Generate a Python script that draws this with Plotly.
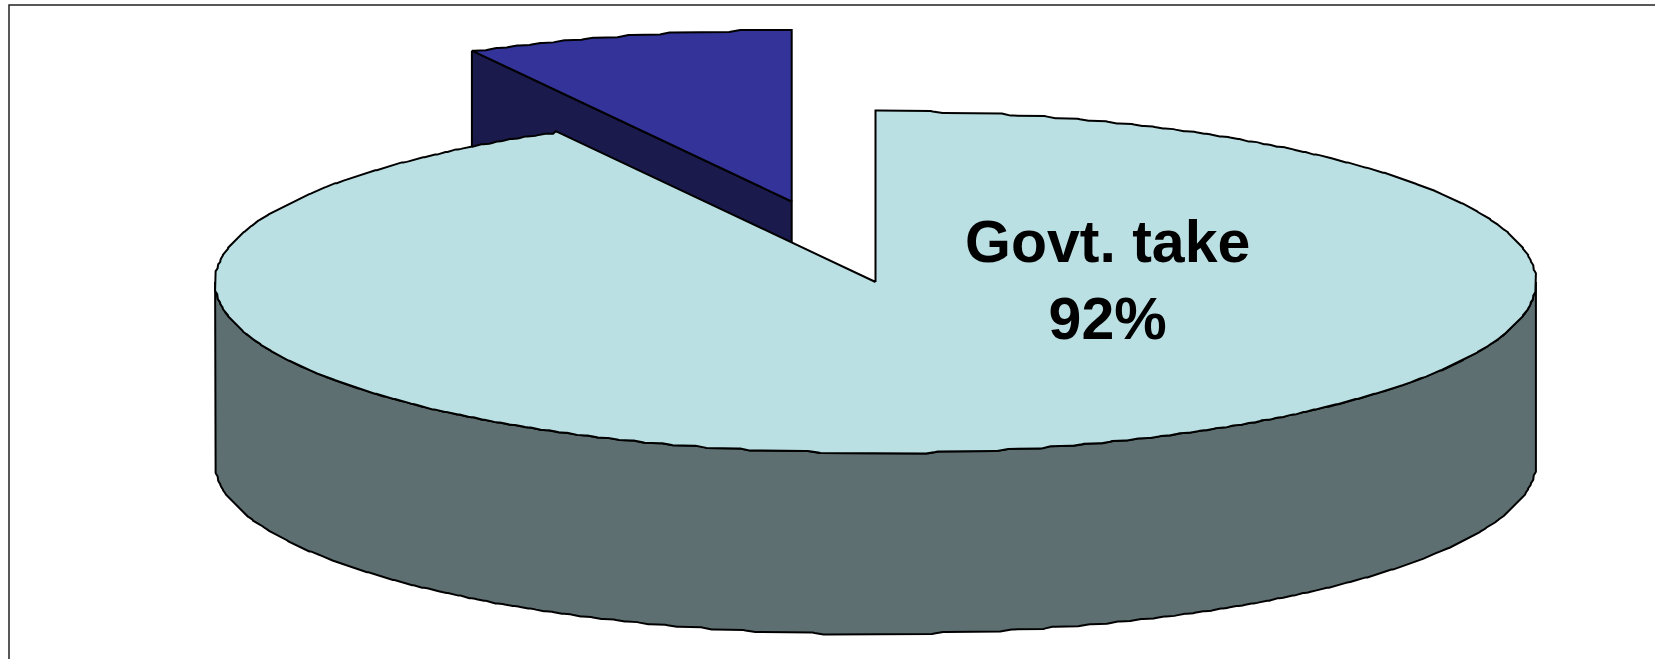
import numpy as np
import plotly.graph_objects as go

# Revenue split shown by the 3-D pie; the second share is pulled out of the disc.
categories = ["Govt. take", "Other"]
shares = [92, 8]
label_lines = ["Govt. take", "92%"]

# Disc geometry in canvas pixels
WIDTH, HEIGHT = 1655, 659
CENTER = (875.5, 282.0)
RADIUS = (660.5, 171.0)
DEPTH = 181.0
PULL_OUT = (-83.8, -80.5)
GRID = 2.6  # coarse raster the rim outline snaps to
SPREAD = 1.007  # perspective widens the narrow slice slightly

TOP_BIG, SIDE_BIG = "#BBE0E3", "#5E6F72"
TOP_SMALL, SIDE_SMALL = "#333399", "#1A1A4D"
EDGE = "#000000"


def rim(start_deg, end_deg, center=CENTER):
    """Stepped rim points between two clockwise angles measured from 12 o'clock."""
    n = max(int(abs(end_deg - start_deg) * 5), 2)
    t = np.radians(np.linspace(start_deg, end_deg, n))
    x = RADIUS[0] * np.sin(t)
    y = -RADIUS[1] * np.cos(t)
    x = np.round(x / GRID) * GRID
    y = np.round(y / GRID) * GRID
    # soften the stair corners a little while keeping the end points
    kernel = np.ones(5) / 5
    xs, ys = x.copy(), y.copy()
    xs[2:-2] = np.convolve(x, kernel, mode="valid")
    ys[2:-2] = np.convolve(y, kernel, mode="valid")
    return xs + center[0], ys + center[1]


def polygon(x, y, fill):
    return go.Scatter(
        x=list(x), y=list(y), mode="lines", fill="toself", fillcolor=fill,
        line=dict(color=EDGE, width=2), hoverinfo="skip", showlegend=False,
    )


sweep_small = 360 * shares[1] / sum(shares) * SPREAD
sweep_big = 360 - sweep_small
fig = go.Figure()

# Frame along the left and top of the plot area
fig.add_trace(go.Scatter(
    x=[9, 9, WIDTH], y=[HEIGHT, 5, 5], mode="lines",
    line=dict(color="#222222", width=1.5), hoverinfo="skip", showlegend=False,
))

# Pulled-out slice: its radial wall first, then its top face
small_center = (CENTER[0] + PULL_OUT[0], CENTER[1] + PULL_OUT[1])
sx, sy = rim(sweep_big, 360, small_center)
fig.add_trace(polygon(
    [sx[0], small_center[0], small_center[0], sx[0], sx[0]],
    [sy[0], small_center[1], small_center[1] + DEPTH, sy[0] + DEPTH, sy[0]],
    SIDE_SMALL,
))
fig.add_trace(polygon(
    [small_center[0], *sx, small_center[0]],
    [small_center[1], *sy, small_center[1]],
    TOP_SMALL,
))

# Main slice: the outer wall is the front half of the rim dropped by DEPTH
fx, fy = rim(90, 270)
fig.add_trace(polygon(
    [*fx, *fx[::-1], fx[0]],
    [*fy, *(fy[::-1] + DEPTH), fy[0]],
    SIDE_BIG,
))
bx, by = rim(0, sweep_big)
fig.add_trace(polygon(
    [CENTER[0], *bx, CENTER[0]],
    [CENTER[1], *by, CENTER[1]],
    TOP_BIG,
))

fig.add_annotation(
    x=1107, y=280, xref="x", yref="y", showarrow=False, align="center",
    text="<br>".join(f"<b>{line}</b>" for line in label_lines),
    font=dict(family="Liberation Sans, Arial, sans-serif", size=59, color="#000000"),
)

fig.update_xaxes(range=[0, WIDTH], visible=False, fixedrange=True)
fig.update_yaxes(range=[HEIGHT, 0], visible=False, fixedrange=True)
fig.update_layout(
    width=WIDTH, height=HEIGHT, margin=dict(l=0, r=0, t=0, b=0),
    paper_bgcolor="#FFFFFF", plot_bgcolor="#FFFFFF", showlegend=False,
)
fig.write_html("out.html", config={"displayModeBar": False})
